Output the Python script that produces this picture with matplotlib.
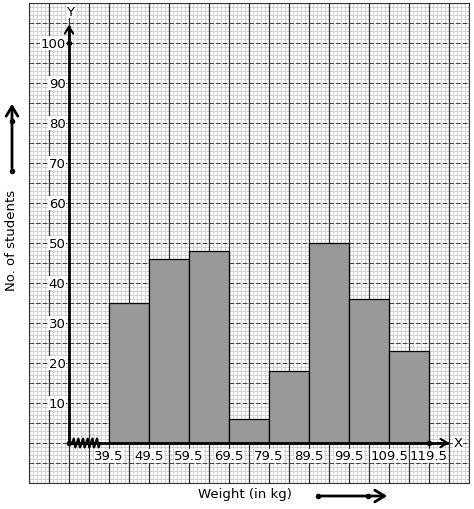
import numpy as np
import matplotlib
matplotlib.use("Agg")
import matplotlib.pyplot as plt

# class boundaries and frequencies
edges = [39.5, 49.5, 59.5, 69.5, 79.5, 89.5, 99.5, 109.5, 119.5]
students = [35, 46, 48, 6, 18, 50, 36, 23]
y_ticks = [10, 20, 30, 40, 50, 60, 70, 80, 90, 100]
origin = 29.5

fig = plt.figure(figsize=(4.74, 5.10), dpi=100)
W, H = 474, 510
ax = fig.add_axes([29 / W, (H - 484) / H, 440 / W, 480 / H])
ax.set_xlim(19.5, 129.5)
ax.set_ylim(-10, 110)
ax.set_xticks([])
ax.set_yticks([])

# graph paper
for v in np.arange(19.5, 129.6, 1):
    ax.axvline(v, color="#cccccc", lw=0.6, zorder=0)
for v in np.arange(-10, 110.1, 1):
    ax.axhline(v, color="#cccccc", lw=0.6, zorder=0)
for v in np.arange(19.5, 129.6, 5):
    ax.axvline(v, color="#333333", lw=0.9, zorder=0.5)
for v in np.arange(-10, 110.1, 5):
    ax.axhline(v, color="#444444", lw=0.8, ls=(0, (4, 2)), zorder=0.5)
for s in ax.spines.values():
    s.set_color("#333333")

# bars
widths = np.diff(edges)
ax.bar(edges[:-1], students, width=widths, align="edge", color="#999999",
       edgecolor="black", lw=0.9, zorder=2)

# axes lines
ax.plot([origin, 124], [0, 0], color="black", lw=2, zorder=3)
ax.plot([origin, origin], [0, 104], color="black", lw=2, zorder=3)
ax.annotate("", xy=(125.3, 0), xytext=(121, 0),
            arrowprops=dict(arrowstyle="->,head_length=0.5,head_width=0.3",
                            lw=1.5, color="black"), zorder=4)
ax.annotate("", xy=(origin, 105.3), xytext=(origin, 101),
            arrowprops=dict(arrowstyle="->,head_length=0.5,head_width=0.3",
                            lw=1.5, color="black"), zorder=4)
ax.plot([origin, origin, 119.5], [0, 100, 0], "o", color="black", ms=3, zorder=4)
ax.text(126.7, 0, "X", ha="center", va="center", fontsize=9.5, zorder=5,
        bbox=dict(fc="white", ec="none", pad=0.5))
ax.text(origin + 0.3, 108, "Y", ha="center", va="center", fontsize=9.5, zorder=5,
        bbox=dict(fc="white", ec="none", pad=0.5))

# zigzag break
zx = np.linspace(30.3, 37.3, 19)
zy = np.array([0, 1.1, -1.1] * 7)[:19]
ax.plot(zx, zy, color="black", lw=1.6, zorder=4)

# tick labels
for t in y_ticks:
    ax.text(origin - 0.9, t, str(t), ha="right", va="center", fontsize=9.5,
            zorder=5, bbox=dict(fc="white", ec="none", pad=0.3))
for e in edges:
    ax.text(e, -3.2, str(e), ha="center", va="center", fontsize=9.5,
            zorder=5, bbox=dict(fc="white", ec="none", pad=0.3))

# axis titles
fig.text(12 / W, 1 - 240 / H, "No. of students", rotation=90, ha="center",
         va="center", fontsize=9.5)
fig.text(245 / W, 1 - 495 / H, "Weight (in kg)", ha="center", va="center",
         fontsize=9.5)

# direction arrows outside the grid
fig.patches.append(matplotlib.patches.FancyArrowPatch(
    (12 / W, 1 - 172 / H), (12 / W, 1 - 102 / H), transform=fig.transFigure,
    arrowstyle="->,head_length=0.5,head_width=0.3", mutation_scale=14, lw=2,
    color="black"))
fig.lines.append(matplotlib.lines.Line2D([12 / W, 12 / W], [1 - 172 / H, 1 - 122 / H],
                 transform=fig.transFigure, marker="o", ms=3, ls="none",
                 color="black"))
fig.patches.append(matplotlib.patches.FancyArrowPatch(
    (318 / W, 1 - 497 / H), (390 / W, 1 - 497 / H), transform=fig.transFigure,
    arrowstyle="->,head_length=0.5,head_width=0.3", mutation_scale=14, lw=2,
    color="black"))
fig.lines.append(matplotlib.lines.Line2D([318 / W, 368 / W], [1 - 497 / H, 1 - 497 / H],
                 transform=fig.transFigure, marker="o", ms=3, ls="none",
                 color="black"))

fig.savefig("out.png", dpi=100)
